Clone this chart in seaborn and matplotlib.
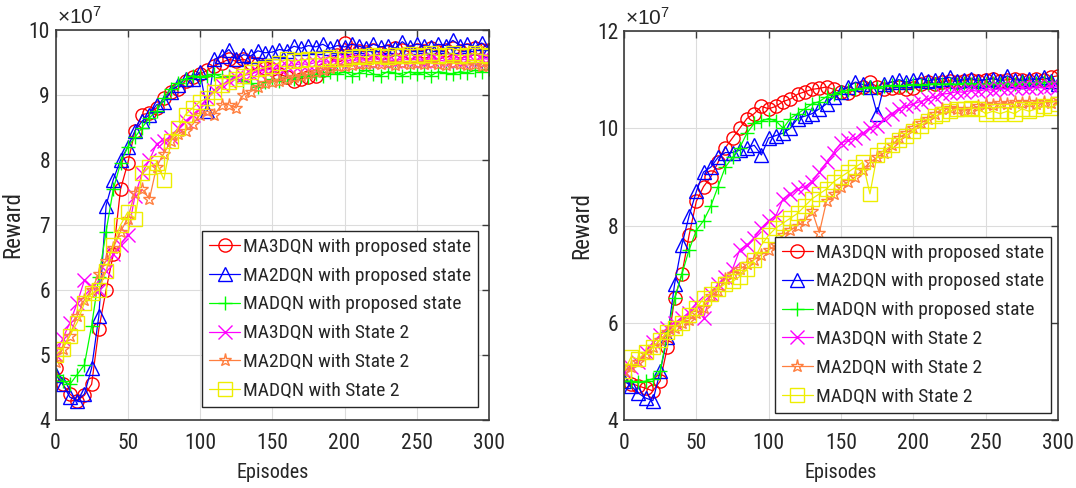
import numpy as np
import pandas as pd
import matplotlib
matplotlib.use("Agg")
import matplotlib.pyplot as plt
import seaborn as sns

# ---------------- data (reward in units of 1e7), sampled every 5 episodes ----------------
episodes = np.arange(0, 301, 5)

labels = ["MA3DQN with proposed state", "MA2DQN with proposed state",
          "MADQN with proposed state", "MA3DQN with State 2",
          "MA2DQN with State 2", "MADQN with State 2"]

# Left panel
left_ma3dqn_prop = [4.80, 4.55, 4.40, 4.30, 4.38, 4.55, 5.40, 6.00, 6.55, 7.55, 7.95, 8.45, 8.70, 8.72, 8.80, 8.95,
                    9.05, 9.10, 9.22, 9.28, 9.32, 9.38, 9.45, 9.50, 9.55, 9.52, 9.55, 9.50, 9.48, 9.42, 9.40, 9.32,
                    9.28, 9.22, 9.25, 9.27, 9.30, 9.38, 9.50, 9.62, 9.80, 9.70, 9.68, 9.66, 9.70, 9.64, 9.68, 9.72,
                    9.70, 9.66, 9.70, 9.68, 9.72, 9.66, 9.70, 9.72, 9.68, 9.70, 9.72, 9.70, 9.70]
left_ma2dqn_prop = [4.70, 4.55, 4.35, 4.30, 4.40, 4.80, 5.60, 7.30, 7.70, 8.00, 8.20, 8.45, 8.60, 8.70, 8.85, 8.90,
                    9.05, 9.15, 9.25, 9.25, 9.35, 8.75, 9.55, 9.60, 9.70, 9.55, 9.62, 9.60, 9.68, 9.65, 9.66, 9.70,
                    9.68, 9.75, 9.72, 9.76, 9.74, 9.78, 9.72, 9.76, 9.74, 9.78, 9.75, 9.72, 9.78, 9.74, 9.76, 9.72,
                    9.82, 9.74, 9.78, 9.76, 9.74, 9.78, 9.76, 9.84, 9.76, 9.78, 9.74, 9.80, 9.70]
left_madqn_prop = [4.70, 4.60, 4.55, 4.70, 4.85, 5.45, 6.20, 6.90, 7.55, 7.95, 8.20, 8.35, 8.50, 8.65, 8.75, 8.95,
                   9.10, 9.18, 9.25, 9.30, 9.28, 9.30, 9.32, 9.28, 9.30, 9.25, 9.22, 9.18, 9.12, 9.20, 9.25, 9.22,
                   9.28, 9.25, 9.30, 9.28, 9.32, 9.30, 9.35, 9.32, 9.36, 9.30, 9.34, 9.38, 9.32, 9.30, 9.36, 9.34,
                   9.30, 9.36, 9.32, 9.35, 9.30, 9.36, 9.34, 9.32, 9.36, 9.34, 9.38, 9.36, 9.40]
left_ma3dqn_s2 = [5.00, 5.25, 5.50, 5.80, 6.15, 6.05, 6.00, 6.30, 6.55, 6.70, 6.85, 7.45, 7.80, 8.00, 8.25, 8.30,
                  8.35, 8.50, 8.60, 8.70, 8.80, 8.95, 9.08, 9.15, 9.22, 9.28, 9.30, 9.32, 9.36, 9.38, 9.40, 9.42,
                  9.45, 9.46, 9.48, 9.47, 9.50, 9.52, 9.50, 9.53, 9.55, 9.52, 9.55, 9.53, 9.56, 9.54, 9.55, 9.52,
                  9.56, 9.54, 9.55, 9.53, 9.56, 9.54, 9.52, 9.56, 9.54, 9.55, 9.53, 9.56, 9.55]
left_ma2dqn_s2 = [4.90, 5.10, 5.30, 5.60, 5.85, 6.00, 6.25, 6.45, 6.65, 6.90, 7.10, 7.50, 7.55, 7.40, 7.90, 8.10,
                  8.30, 8.40, 8.45, 8.55, 8.70, 8.75, 8.70, 8.85, 8.85, 8.80, 9.00, 9.05, 9.12, 9.18, 9.20, 9.22,
                  9.25, 9.28, 9.30, 9.32, 9.35, 9.38, 9.42, 9.44, 9.45, 9.46, 9.48, 9.47, 9.50, 9.48, 9.50, 9.46,
                  9.50, 9.48, 9.50, 9.47, 9.50, 9.48, 9.46, 9.50, 9.48, 9.46, 9.48, 9.44, 9.45]
left_madqn_s2 = [5.00, 5.10, 5.30, 5.50, 5.80, 5.95, 6.00, 6.30, 6.70, 7.00, 7.20, 7.10, 7.80, 7.90, 7.95, 7.70,
                 8.30, 8.50, 8.70, 8.80, 8.90, 8.95, 9.05, 9.15, 9.20, 9.25, 9.30, 9.35, 9.40, 9.42, 9.45, 9.50,
                 9.55, 9.52, 9.54, 9.55, 9.56, 9.55, 9.58, 9.56, 9.55, 9.58, 9.60, 9.58, 9.62, 9.60, 9.58, 9.62,
                 9.60, 9.63, 9.60, 9.62, 9.64, 9.60, 9.62, 9.64, 9.60, 9.62, 9.64, 9.62, 9.60]

# Right panel
right_ma3dqn_prop = [4.80, 4.75, 4.70, 4.65, 4.60, 4.80, 5.50, 6.50, 7.00, 7.80, 8.50, 8.80, 9.00, 9.30, 9.60, 9.80,
                     10.00, 10.20, 10.30, 10.45, 10.40, 10.45, 10.55, 10.60, 10.70, 10.75, 10.80, 10.82, 10.85, 10.80,
                     10.75, 10.72, 10.80, 10.85, 10.95, 10.85, 10.80, 10.82, 10.85, 10.80, 10.82, 10.90, 10.95, 10.92,
                     10.95, 10.98, 10.96, 10.98, 11.00, 10.98, 11.00, 11.02, 10.98, 11.00, 11.02, 11.00, 10.98, 11.02,
                     11.00, 11.05, 11.08]
right_ma2dqn_prop = [4.80, 4.70, 4.55, 4.45, 4.40, 5.00, 5.70, 6.80, 7.60, 8.20, 8.70, 9.10, 9.20, 9.40, 9.50, 9.50,
                     9.55, 9.60, 9.65, 9.45, 9.80, 9.85, 9.90, 10.00, 10.20, 10.25, 10.30, 10.40, 10.50, 10.65, 10.75,
                     10.85, 10.95, 10.90, 10.85, 10.30, 10.90, 10.95, 11.00, 10.95, 11.00, 11.02, 10.98, 11.00, 11.02,
                     11.05, 10.98, 11.00, 11.02, 10.98, 11.00, 11.02, 10.98, 11.08, 11.00, 10.98, 11.02, 11.00, 11.05,
                     10.98, 10.90]
right_madqn_prop = [4.80, 4.80, 4.78, 4.80, 4.85, 5.00, 5.80, 6.50, 7.00, 7.50, 7.90, 8.10, 8.40, 8.80, 9.20, 9.40,
                    9.60, 9.90, 10.10, 10.15, 10.20, 10.15, 10.00, 10.20, 10.30, 10.40, 10.50, 10.55, 10.65, 10.70,
                    10.75, 10.78, 10.80, 10.82, 10.85, 10.83, 10.86, 10.88, 10.86, 10.88, 10.90, 10.88, 10.90, 10.92,
                    10.90, 10.92, 10.90, 10.93, 10.91, 10.92, 10.90, 10.93, 10.92, 10.94, 10.92, 10.95, 10.93, 10.94,
                    10.96, 10.95, 10.95]
right_ma3dqn_s2 = [5.00, 5.10, 5.20, 5.40, 5.60, 5.75, 5.90, 6.00, 6.10, 6.20, 6.40, 6.10, 6.60, 6.80, 6.95, 7.10,
                   7.50, 7.60, 7.75, 7.95, 8.10, 8.20, 8.55, 8.65, 8.75, 8.80, 8.90, 9.10, 9.30, 9.50, 9.70, 9.75,
                   9.80, 9.90, 10.00, 10.05, 10.20, 10.30, 10.40, 10.45, 10.50, 10.55, 10.60, 10.65, 10.70, 10.72,
                   10.75, 10.74, 10.78, 10.76, 10.80, 10.78, 10.82, 10.80, 10.82, 10.84, 10.82, 10.85, 10.83, 10.86,
                   10.85]
right_ma2dqn_s2 = [5.00, 5.10, 5.20, 5.35, 5.50, 5.65, 5.80, 5.90, 6.00, 6.05, 6.20, 6.30, 6.55, 6.65, 6.90, 7.00,
                   7.10, 7.20, 7.30, 7.40, 7.50, 7.60, 7.80, 7.90, 8.00, 8.10, 8.30, 7.85, 8.50, 8.65, 8.80, 8.90,
                   9.00, 9.15, 9.30, 9.40, 9.50, 9.65, 9.80, 9.90, 10.00, 10.10, 10.20, 10.30, 10.40, 10.42, 10.40,
                   10.35, 10.40, 10.45, 10.50, 10.48, 10.52, 10.50, 10.55, 10.52, 10.55, 10.50, 10.55, 10.52, 10.60]
right_madqn_s2 = [5.00, 5.30, 5.25, 5.40, 5.50, 5.65, 5.80, 5.90, 6.00, 6.15, 6.30, 6.50, 6.60, 6.70, 6.80, 6.85,
                  6.95, 7.10, 7.30, 7.60, 7.80, 7.95, 8.05, 8.15, 8.25, 8.40, 8.55, 8.65, 8.75, 8.90, 9.00, 9.10,
                  9.20, 9.30, 8.65, 9.45, 9.55, 9.65, 9.75, 9.85, 9.95, 10.05, 10.15, 10.25, 10.30, 10.35, 10.40,
                  10.40, 10.42, 10.40, 10.30, 10.35, 10.30, 10.35, 10.30, 10.40, 10.35, 10.40, 10.45, 10.42, 10.50]

left_series = [left_ma3dqn_prop, left_ma2dqn_prop, left_madqn_prop,
               left_ma3dqn_s2, left_ma2dqn_s2, left_madqn_s2]
right_series = [right_ma3dqn_prop, right_ma2dqn_prop, right_madqn_prop,
                right_ma3dqn_s2, right_ma2dqn_s2, right_madqn_s2]

x_ticks = [0, 50, 100, 150, 200, 250, 300]
left_y_ticks = [4, 5, 6, 7, 8, 9, 10]
right_y_ticks = [4, 6, 8, 10, 12]

# ---------------- style ----------------
colors = ["#FF0000", "#0000FF", "#00FF00", "#FF00FF", "#FF7F3F", "#EEEE00"]
markers = ["o", "^", "+", "x", "*", "s"]

sns.set_theme(style="white")
FAMILY = ["Roboto Condensed", "Archivo Narrow", "PT Sans Narrow",
          "IBM Plex Sans Condensed", "Liberation Sans", "DejaVu Sans"]
plt.rcParams["font.family"] = FAMILY
plt.rcParams["mathtext.fontset"] = "custom"
plt.rcParams["mathtext.rm"] = "Liberation Sans"
plt.rcParams["mathtext.it"] = "Liberation Sans"

TICK_FS = 15.5
LEG_FS = 14
fig = plt.figure(figsize=(10.76, 4.88), dpi=100)
ax1 = fig.add_axes([55.5 / 1076, 68 / 488, 433.5 / 1076, 390 / 488])
ax2 = fig.add_axes([624 / 1076, 68 / 488, 434 / 1076, 389 / 488])


def draw(ax, series, yticks, ylim, legend_anchor):
    for vals, lab, c, m in zip(series, labels, colors, markers):
        df = pd.DataFrame({"Episodes": episodes, "Reward": vals})
        sns.lineplot(data=df, x="Episodes", y="Reward", ax=ax, color=c, marker=m,
                     markersize=9.5, markerfacecolor="none", markeredgecolor=c,
                     markeredgewidth=1.0, linewidth=0.9, label=lab,
                     estimator=None, sort=False)
    ax.set_xlim(0, 300)
    ax.set_ylim(*ylim)
    ax.set_xticks(x_ticks)
    ax.set_yticks(yticks)
    ax.set_xticklabels([str(t) for t in x_ticks])
    ax.set_yticklabels([str(t) for t in yticks])
    ax.grid(True, color="#dcdcdc", linewidth=0.8)
    ax.set_axisbelow(True)
    for sp in ax.spines.values():
        sp.set_color("#3a3a3a")
        sp.set_linewidth(1.2)
    ax.tick_params(axis="both", direction="in", top=True, right=True, length=5,
                   width=1, color="#3a3a3a", labelcolor="#262626", labelsize=TICK_FS)
    ax.tick_params(axis="x", pad=9.5)
    ax.tick_params(axis="y", pad=4)
    ax.set_xlabel("Episodes", fontsize=14.5, color="#262626", labelpad=6)
    ax.set_ylabel("Reward", fontsize=16.5, color="#262626", labelpad=3)
    ax.text(0.003, 1.015, r"$\times10^{7}$", transform=ax.transAxes, ha="left",
            va="baseline", fontsize=15, color="#262626")
    leg = ax.legend(loc="lower right", bbox_to_anchor=legend_anchor, borderaxespad=0,
                    fontsize=LEG_FS, frameon=True, fancybox=False, framealpha=1,
                    edgecolor="#262626", handlelength=1.6, handletextpad=0.15,
                    labelspacing=0.56, borderpad=0.36)
    leg.get_frame().set_linewidth(1.0)


draw(ax1, left_series, left_y_ticks, (4, 10), (0.975, 0.033))
draw(ax2, right_series, right_y_ticks, (4, 12), (0.984, 0.018))

fig.savefig("out.png", dpi=100)
